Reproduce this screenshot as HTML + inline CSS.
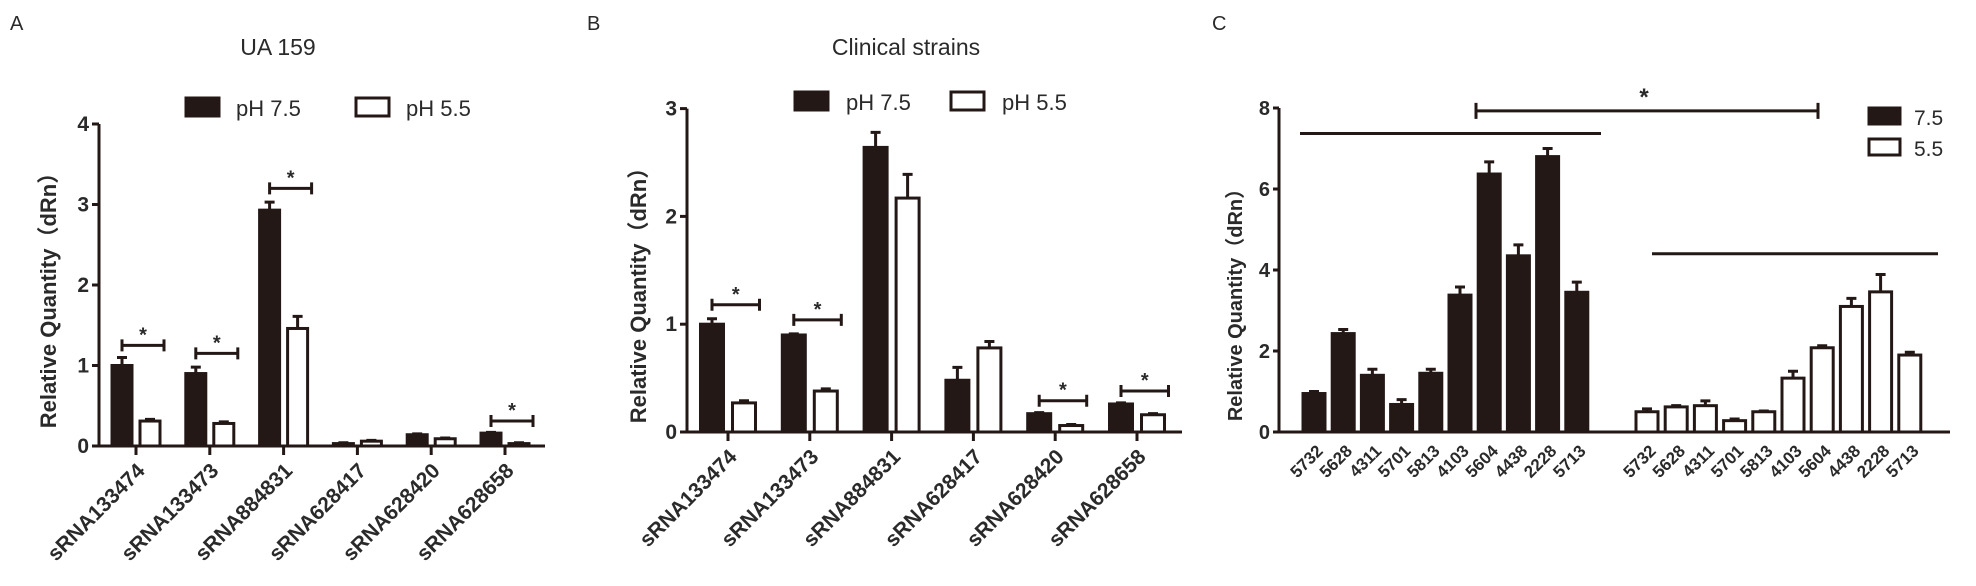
<!DOCTYPE html>
<html><head><meta charset="utf-8"><style>
html,body{margin:0;padding:0;background:#fff;}
svg{display:block;font-family:"Liberation Sans",Arial,sans-serif;}
</style></head><body>
<svg id="fig" width="1976" height="586" viewBox="0 0 1976 586" xmlns="http://www.w3.org/2000/svg"></svg>
<script>
// Panel A data
const catsAB = ["sRNA133474","sRNA133473","sRNA884831","sRNA628417","sRNA628420","sRNA628658"];
const aBlack = [1.0,0.9,2.93,0.03,0.14,0.16];
const aBlackErr = [0.1,0.08,0.1,0.01,0.01,0.01];
const aWhite = [0.31,0.28,1.46,0.06,0.09,0.03];
const aWhiteErr = [0.02,0.02,0.15,0.01,0.01,0.01];
const aSig = [[0,1.25],[1,1.15],[2,3.2],[5,0.31]];
const aTicks = [0,1,2,3,4];
// Panel B data
const bBlack = [1.0,0.9,2.64,0.48,0.17,0.26];
const bBlackErr = [0.05,0.01,0.14,0.12,0.01,0.01];
const bWhite = [0.27,0.38,2.17,0.78,0.06,0.16];
const bWhiteErr = [0.02,0.02,0.22,0.06,0.01,0.01];
const bSig = [[0,1.18],[1,1.04],[4,0.29],[5,0.38]];
const bTicks = [0,1,2,3];
// Panel C data
const catsC = ["5732","5628","4311","5701","5813","4103","5604","4438","2228","5713"];
const cBlack = [0.95,2.43,1.4,0.68,1.45,3.38,6.37,4.35,6.8,3.45];
const cBlackErr = [0.05,0.1,0.15,0.12,0.1,0.2,0.3,0.27,0.2,0.25];
const cWhite = [0.5,0.62,0.65,0.28,0.5,1.33,2.08,3.1,3.46,1.9];
const cWhiteErr = [0.07,0.03,0.12,0.04,0.02,0.17,0.05,0.2,0.43,0.07];
const cTicks = [0,2,4,6,8];
const cGroupLines = [7.37,4.4];
const cBracket = 7.93;

const svg = document.getElementById('fig');
const NS = 'http://www.w3.org/2000/svg';
const INK = '#231815', TXT = '#2a2a2a';
function mk(tag, attrs, parent){const e=document.createElementNS(NS,tag);for(const k in attrs)e.setAttribute(k,attrs[k]);(parent||svg).appendChild(e);return e;}
function txt(s, attrs, parent){const e=mk('text',attrs,parent);e.textContent=s;return e;}

function bar(g, cx, w, v, err, y, filled, name){
  const y0=y(0), yt=y(v);
  const r=mk('rect',{x:cx-w/2,y:yt,width:w,height:Math.max(0,y0-yt),fill:filled?INK:'#fff',stroke:INK,'stroke-width':3},g);
  
  
  const ye=y(v+err);
  const e=mk('path',{d:`M${cx} ${yt} V${ye} M${cx-5} ${ye} H${cx+5}`,stroke:INK,'stroke-width':3,fill:'none'},g);
  
  
}

function panelAB(opt){
  const g=mk('g',{});
  
  
  const y=v=>opt.y0-v*opt.unit;
  const x=i=>opt.x0+i*opt.step;
  const ymax=opt.ticks[opt.ticks.length-1];
  mk('path',{d:`M${opt.ax} ${y(ymax)} V${opt.y0} H${opt.axEnd}`,stroke:INK,'stroke-width':3,fill:'none',},g);
  opt.ticks.forEach(t=>{
    mk('line',{x1:opt.ax-7,x2:opt.ax,y1:y(t),y2:y(t),stroke:INK,'stroke-width':3},g);
    const l=txt(String(t),{x:opt.ax-10,y:y(t)+7,'text-anchor':'end','font-size':21,'font-weight':'bold',fill:TXT},g);
    
    
  });
  catsAB.forEach((c,i)=>{
    mk('line',{x1:x(i),x2:x(i),y1:opt.y0,y2:opt.y0+9,stroke:INK,'stroke-width':3},g);
    bar(g,x(i)-opt.off,opt.bw,opt.black[i],opt.blackErr[i],y,true,'bar-ph75-'+c);
    bar(g,x(i)+opt.off,opt.bw,opt.white[i],opt.whiteErr[i],y,false,'bar-ph55-'+c);
    const tx=x(i)+10, ty=opt.y0+26;
    const l=txt(c,{x:tx,y:ty,'text-anchor':'end','font-size':opt.lfs,'font-weight':'bold',fill:TXT,transform:`rotate(-45 ${tx} ${ty})`},g);
    
    
  });
  opt.sig.forEach(([i,v])=>{
    const x1=x(i)-opt.off, x2=x(i)+opt.off+opt.bw/2+4, yy=y(v);
    mk('path',{d:`M${x1} ${yy-6} V${yy+6} M${x1} ${yy} H${x2} M${x2} ${yy-6} V${yy+6}`,stroke:INK,'stroke-width':3,fill:'none',},g);
    txt('*',{x:(x1+x2)/2,y:yy-4,'text-anchor':'middle','font-size':20,'font-weight':'bold',fill:TXT,},g);
  });
  const yl=txt('Relative  Quantity（dRn）',{x:opt.ylx,y:opt.yly,'text-anchor':'middle','font-size':22,'font-weight':'bold',fill:TXT,transform:`rotate(-90 ${opt.ylx} ${opt.yly})`,'font-family':'"Liberation Sans","Noto Sans CJK SC",sans-serif'},g);
  
  
  txt(opt.title,{x:opt.tx,y:55,'text-anchor':'middle','font-size':23,fill:TXT,},g);
  txt(opt.letter,{x:opt.lx,y:30,'font-size':20,fill:TXT,},g);
  const L=opt.leg;
  mk('rect',{x:L.x1,y:L.y,width:33,height:18,fill:INK,stroke:INK,'stroke-width':3,},g);
  txt('pH 7.5',{x:L.t1,y:L.y+18,'font-size':22,fill:TXT,},g);
  mk('rect',{x:L.x2,y:L.y,width:33,height:18,fill:'#fff',stroke:INK,'stroke-width':3,},g);
  txt('pH 5.5',{x:L.t2,y:L.y+18,'font-size':22,fill:TXT,},g);
}

panelAB({name:'panel-a',letter:'A',lx:10,title:'UA 159',tx:278,ax:99,axEnd:545,y0:446,unit:80.5,ticks:aTicks,x0:136,step:73.8,off:14,bw:20,
  black:aBlack,blackErr:aBlackErr,white:aWhite,whiteErr:aWhiteErr,sig:aSig,lfs:21,ylx:56,yly:295,
  leg:{x1:186,t1:236,x2:356,t2:406,y:98}});
panelAB({name:'panel-b',letter:'B',lx:587,title:'Clinical strains',tx:906,ax:687,axEnd:1182,y0:432,unit:107.8,ticks:bTicks,x0:728,step:81.8,off:16,bw:23,
  black:bBlack,blackErr:bBlackErr,white:bWhite,whiteErr:bWhiteErr,sig:bSig,lfs:21,ylx:646,yly:290,
  leg:{x1:795,t1:846,x2:951,t2:1002,y:92}});

// Panel C
(function(){
  const g=mk('g',{});
  
  
  const ax=1279, y0=432, unit=40.5, axEnd=1950;
  const y=v=>y0-v*unit;
  const xb=i=>1314+i*29.2, xw=i=>1647+i*29.2;
  mk('path',{d:`M${ax} ${y(8)} V${y0} H${axEnd}`,stroke:INK,'stroke-width':3,fill:'none',},g);
  cTicks.forEach(t=>{
    mk('line',{x1:ax-6,x2:ax,y1:y(t),y2:y(t),stroke:INK,'stroke-width':3},g);
    const l=txt(String(t),{x:ax-9,y:y(t)+7,'text-anchor':'end','font-size':20,'font-weight':'bold',fill:TXT},g);
    
    
  });
  catsC.forEach((c,i)=>{
    bar(g,xb(i),22,cBlack[i],cBlackErr[i],y,true,'bar-75-'+c);
    bar(g,xw(i),22,cWhite[i],cWhiteErr[i],y,false,'bar-55-'+c);
    [xb(i),xw(i)].forEach(cx=>{
      const tx=cx+10, ty=y0+20;
      const l=txt(c,{x:tx,y:ty,'text-anchor':'end','font-size':17,'font-weight':'bold',fill:TXT,transform:`rotate(-45 ${tx} ${ty})`},g);
      
      
    });
  });
  mk('line',{x1:1300,x2:1601,y1:y(cGroupLines[0]),y2:y(cGroupLines[0]),stroke:INK,'stroke-width':3,},g);
  mk('line',{x1:1652,x2:1938,y1:y(cGroupLines[1]),y2:y(cGroupLines[1]),stroke:INK,'stroke-width':3,},g);
  const yb=y(cBracket);
  mk('path',{d:`M1476 ${yb-8} V${yb+8} M1476 ${yb} H1818 M1818 ${yb-8} V${yb+8}`,stroke:INK,'stroke-width':3,fill:'none',},g);
  txt('*',{x:1644,y:yb-6,'text-anchor':'middle','font-size':24,'font-weight':'bold',fill:TXT,},g);
  const yl=txt('Relative  Quantity（dRn）',{x:1242,y:300,'text-anchor':'middle','font-size':20,'font-weight':'bold',fill:TXT,transform:'rotate(-90 1242 300)','font-family':'"Liberation Sans","Noto Sans CJK SC",sans-serif'},g);
  
  
  txt('C',{x:1212,y:30,'font-size':20,fill:TXT,},g);
  mk('rect',{x:1869,y:108,width:31,height:16,fill:INK,stroke:INK,'stroke-width':3,},g);
  txt('7.5',{x:1914,y:125,'font-size':21,fill:TXT,},g);
  mk('rect',{x:1869,y:139,width:31,height:16,fill:'#fff',stroke:INK,'stroke-width':3,},g);
  txt('5.5',{x:1914,y:156,'font-size':21,fill:TXT,},g);
})();
</script>
</body></html>
